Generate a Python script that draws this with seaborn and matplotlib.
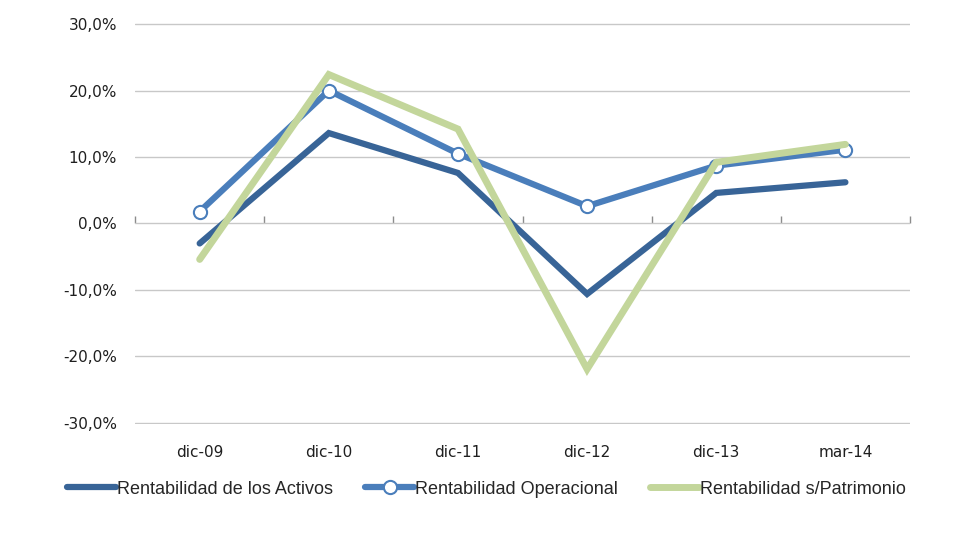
import numpy as np
import pandas as pd
import matplotlib
matplotlib.use("Agg")
import matplotlib.pyplot as plt
import seaborn as sns
from matplotlib.ticker import FuncFormatter, FixedLocator

# Data
periods = ["dic-09", "dic-10", "dic-11", "dic-12", "dic-13", "mar-14"]
activos = [-0.030, 0.136, 0.076, -0.106, 0.046, 0.062]
operacional = [0.018, 0.200, 0.105, 0.026, 0.087, 0.111]
patrimonio = [-0.054, 0.224, 0.142, -0.219, 0.092, 0.119]

labels = ["Rentabilidad de los Activos", "Rentabilidad Operacional", "Rentabilidad s/Patrimonio"]
colors = ["#386497", "#4A7EBB", "#C3D69B"]

sns.set_style("white")
plt.rcParams["font.family"] = ["DejaVu Sans"]

fig = plt.figure(figsize=(9.79, 5.35), dpi=100)
ax = fig.add_axes([0.138, 0.2075, 0.7915, 0.7495])

x = np.arange(len(periods))

sns.lineplot(x=x, y=activos, ax=ax, color=colors[0], linewidth=4.5,
             label=labels[0], solid_capstyle="round", solid_joinstyle="miter")
sns.lineplot(x=x, y=operacional, ax=ax, color=colors[1], linewidth=4.5,
             marker="o", markersize=9.5, markerfacecolor="white",
             markeredgecolor=colors[1], markeredgewidth=1.5,
             label=labels[1], solid_capstyle="round")
sns.lineplot(x=x, y=patrimonio, ax=ax, color=colors[2], linewidth=5,
             label=labels[2], solid_capstyle="round", solid_joinstyle="miter")

# axes range / grid
ax.set_xlim(-0.5, len(periods) - 0.5)
ax.set_ylim(-0.3015, 0.3015)
ax.set_yticks(np.arange(-0.30, 0.301, 0.10))
ax.yaxis.set_major_formatter(FuncFormatter(lambda v, p: f"{v*100:.1f}%".replace(".", ",").replace("-0,0", "0,0")))
ax.grid(axis="y", color="#C8C8C8", linewidth=1.0)
ax.set_axisbelow(True)
for s in ax.spines.values():
    s.set_visible(False)

ax.set_xticks(x)
ax.set_xticklabels(periods)
ax.tick_params(axis="x", length=0, pad=15, labelsize=11, colors="#1F1F1F")
ax.tick_params(axis="y", length=0, pad=13, labelsize=11, colors="#1F1F1F")
ax.set_xlabel("")
ax.set_ylabel("")

# category axis sitting on zero
sec = ax.secondary_xaxis(0.5)
sec.xaxis.set_major_locator(FixedLocator(np.arange(-0.5, len(periods), 1.0)))
sec.set_xticklabels([])
sec.tick_params(axis="x", direction="out", length=5, width=1, color="#8C8C8C")
sec.spines["bottom"].set_color("#8C8C8C")
sec.spines["bottom"].set_linewidth(1.0)
for k in ["top", "left", "right"]:
    if k in sec.spines:
        sec.spines[k].set_visible(False)

# legend below
ax.get_legend().remove()
handles, lbls = ax.get_legend_handles_labels()
fig.legend(handles, lbls, loc="center", bbox_to_anchor=(0.497, 1 - 489 / 535),
           ncol=3, frameon=False, handlelength=2.7,
           handletextpad=0.05, columnspacing=1.8,
           prop={"family": "Liberation Sans", "size": 13})

fig.savefig("out.png", dpi=100)
